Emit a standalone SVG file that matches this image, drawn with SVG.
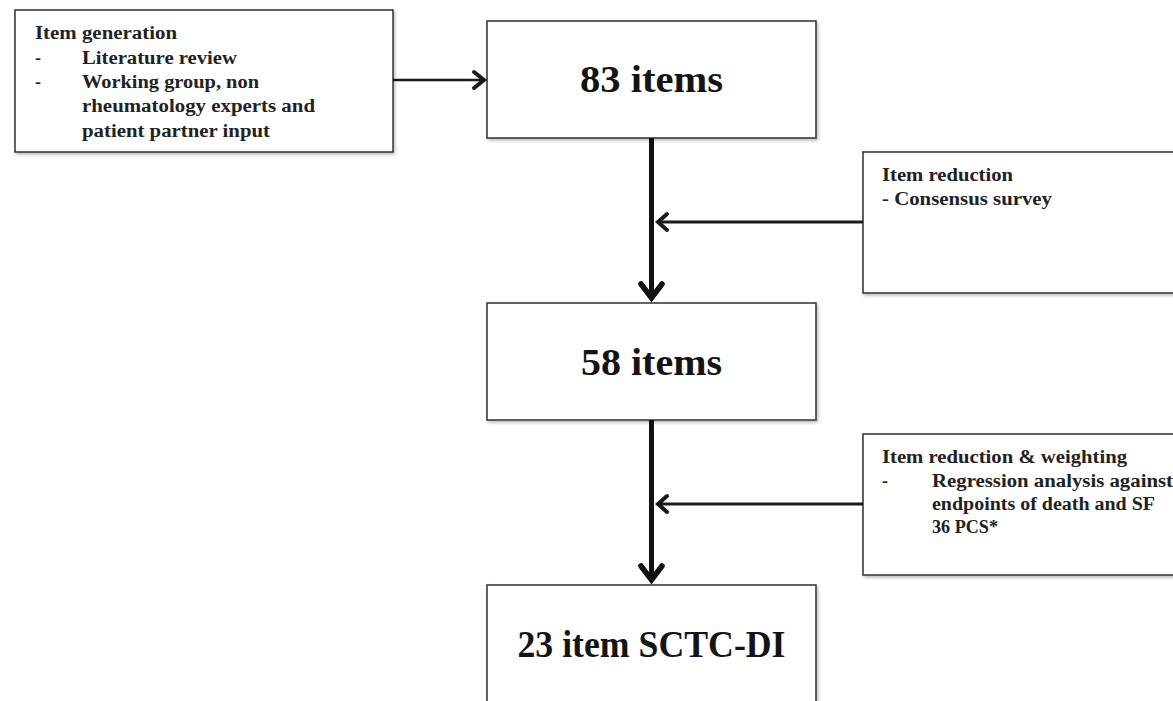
<svg xmlns="http://www.w3.org/2000/svg" width="1173" height="701" viewBox="0 0 1173 701">
  <defs>
    <style>
      .box { fill: #ffffff; stroke: #3c3c3c; stroke-width: 1.6; filter: url(#shadow); }
      .small { font-family: "Liberation Serif", "Times New Roman", serif; font-weight: bold; font-size: 18px; fill: #222222; }
      .big { font-family: "Liberation Serif", "Times New Roman", serif; font-weight: bold; font-size: 37px; fill: #141414; text-anchor: middle; }
      .thin { stroke: #1a1a1a; stroke-width: 2.6; fill: none; }
      .mid { stroke: #1a1a1a; stroke-width: 3; fill: none; }
      .thick { stroke: #111111; stroke-width: 5; fill: none; }
      .head { fill: none; stroke-linecap: round; stroke-linejoin: miter; stroke-width: 4; }
      .thick.head { stroke-width: 5.5; }
    </style>
    <filter id="shadow" x="-5%" y="-5%" width="115%" height="115%">
      <feDropShadow dx="1.5" dy="2" stdDeviation="1.5" flood-color="#000000" flood-opacity="0.25"/>
    </filter>
  </defs>
  <rect width="1173" height="701" fill="#ffffff"/>

  <g id="node-generation">
    <rect class="box" x="15" y="10" width="378" height="142"/>
    <text class="small" x="35" y="39" textLength="142" lengthAdjust="spacingAndGlyphs">Item generation</text>
    <text class="small" x="35" y="64">-</text>
    <text class="small" x="82" y="64" textLength="155" lengthAdjust="spacingAndGlyphs">Literature review</text>
    <text class="small" x="35" y="88">-</text>
    <text class="small" x="82" y="88" textLength="177" lengthAdjust="spacingAndGlyphs">Working group, non</text>
    <text class="small" x="82" y="112" textLength="233" lengthAdjust="spacingAndGlyphs">rheumatology experts and</text>
    <text class="small" x="82" y="137" textLength="188" lengthAdjust="spacingAndGlyphs">patient partner input</text>
  </g>

  <g id="node-83">
    <rect class="box" x="487" y="21" width="329" height="117"/>
    <text class="big" x="651.5" y="92" textLength="143" lengthAdjust="spacingAndGlyphs">83 items</text>
  </g>

  <g id="node-58">
    <rect class="box" x="487" y="303" width="329" height="117"/>
    <text class="big" x="651.5" y="375" textLength="141" lengthAdjust="spacingAndGlyphs">58 items</text>
  </g>

  <g id="node-23">
    <rect class="box" x="487" y="585" width="329" height="140"/>
    <text class="big" x="651.5" y="657" textLength="268" lengthAdjust="spacingAndGlyphs">23 item SCTC-DI</text>
  </g>

  <g id="node-reduction">
    <rect class="box" x="863" y="152" width="330" height="141"/>
    <text class="small" x="882" y="181" textLength="131" lengthAdjust="spacingAndGlyphs">Item reduction</text>
    <text class="small" x="882" y="205" textLength="170" lengthAdjust="spacingAndGlyphs">- Consensus survey</text>
  </g>

  <g id="node-weighting">
    <rect class="box" x="863" y="434" width="330" height="141"/>
    <text class="small" x="882" y="463" textLength="245" lengthAdjust="spacingAndGlyphs">Item reduction &amp; weighting</text>
    <text class="small" x="882" y="487">-</text>
    <text class="small" x="932" y="487" textLength="241" lengthAdjust="spacingAndGlyphs">Regression analysis against</text>
    <text class="small" x="932" y="510" textLength="223" lengthAdjust="spacingAndGlyphs">endpoints of death and SF</text>
    <text class="small" x="932" y="533" textLength="66" lengthAdjust="spacingAndGlyphs">36 PCS*</text>
  </g>

  <g id="connectors">
    <!-- generation -> 83 items -->
    <line class="thin" x1="393" y1="80" x2="483" y2="80"/>
    <path class="thin head" d="M474,72 L484,80 L474,88"/>
    <!-- 83 -> 58 -->
    <line class="thick" x1="651.5" y1="138" x2="651.5" y2="298"/>
    <path class="thick head" d="M641,284 L651.5,298 L662,284"/>
    <!-- reduction -> trunk -->
    <line class="mid" x1="863" y1="222" x2="658" y2="222"/>
    <path class="mid head" d="M667,214 L658,222 L667,230"/>
    <!-- 58 -> 23 -->
    <line class="thick" x1="651.5" y1="420" x2="651.5" y2="580"/>
    <path class="thick head" d="M641,566 L651.5,580 L662,566"/>
    <!-- weighting -> trunk -->
    <line class="mid" x1="863" y1="504" x2="658" y2="504"/>
    <path class="mid head" d="M667,496 L658,504 L667,512"/>
  </g>
</svg>
